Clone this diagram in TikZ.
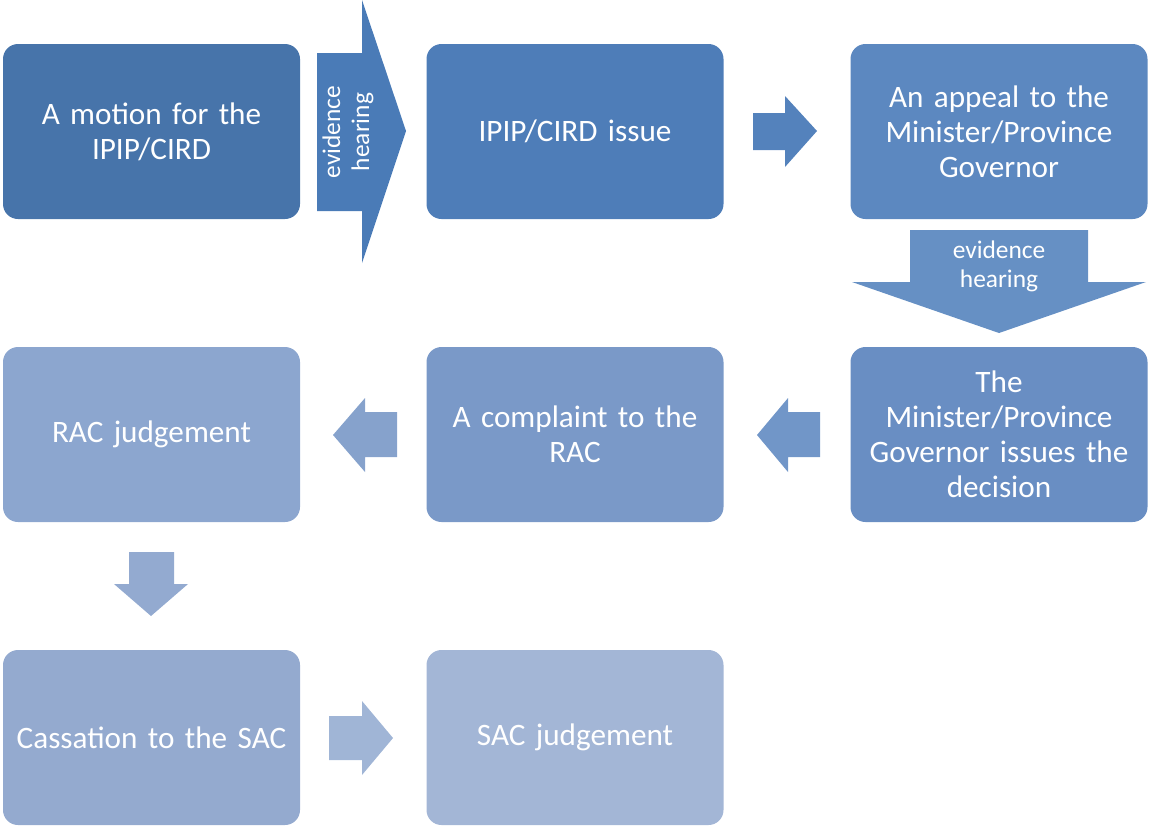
\documentclass[tikz,border=0pt]{standalone}
\usepackage{fontspec}
\setmainfont{Carlito}
\definecolor{cA}{HTML}{4774AA}
\definecolor{cAr1}{HTML}{4A7BB7}
\definecolor{cB}{HTML}{4E7DB8}
\definecolor{cAr2}{HTML}{5482BC}
\definecolor{cC}{HTML}{5C88C0}
\definecolor{cAr3}{HTML}{6690C4}
\definecolor{cD}{HTML}{698EC3}
\definecolor{cAr4}{HTML}{7196C8}
\definecolor{cE}{HTML}{7A99C8}
\definecolor{cAr5}{HTML}{86A2CC}
\definecolor{cF}{HTML}{8CA6CF}
\definecolor{cAr6}{HTML}{93AAD0}
\definecolor{cG}{HTML}{94AACF}
\definecolor{cAr7}{HTML}{A0B5D6}
\definecolor{cH}{HTML}{A3B6D6}
\tikzset{
  stepbox/.style={rounded corners=7.5pt, minimum width=148.5pt, minimum height=87.5pt,
    inner sep=2pt, align=center, text=white, font=\fontsize{15.6}{17.5}\selectfont, text width=140pt},
  arrowtxt/.style={text=white, align=center, font=\fontsize{12.7}{14.5}\selectfont, inner sep=0pt}
}
\begin{document}
\begin{tikzpicture}[x=0.5pt,y=-0.5pt]
\useasboundingbox (0,0) rectangle (1149,826);
% boxes
\node[stepbox, fill=cA] (b1) at (151.5,131.5) {A motion for the\\IPIP/CIRD};
\node[stepbox, fill=cB] (b2) at (575,131.5) {IPIP/CIRD issue};
\node[stepbox, fill=cC] (b3) at (999,131.5) {An appeal to the\\Minister/Province\\Governor};
\node[stepbox, fill=cD] (b6) at (999,434.5) {The\\Minister/Province\\Governor issues the\\decision};
\node[stepbox, fill=cE] (b5) at (575,434.5) {A complaint to the\\RAC};
\node[stepbox, fill=cF] (b4) at (151.5,434.5) {RAC judgement};
\node[stepbox, fill=cG] (b7) at (151.5,737.5) {Cassation to the SAC};
\node[stepbox, fill=cH] (b8) at (575,737.5) {SAC judgement};
% big right arrow b1 -> b2
\fill[cAr1] (317,53) -- (362,53) -- (362,0) -- (406,131) -- (362,263) -- (362,211) -- (317,211) -- cycle;
\node[arrowtxt, rotate=90] (t1) at (348,132) {evidence\\hearing};
% small right arrow b2 -> b3
\fill[cAr2] (753,113) -- (785,113) -- (785,96) -- (817,131) -- (785,167) -- (785,150) -- (753,150) -- cycle;
% big down arrow b3 -> b6
\fill[cAr3] (910,230) -- (1088,230) -- (1088,282) -- (1146,282) -- (999,333) -- (852,282) -- (910,282) -- cycle;
\node[arrowtxt] (t2) at (999,266) {evidence\\hearing};
% left arrow b6 -> b5
\fill[cAr4] (820,412) -- (788,412) -- (788,398) -- (757,435) -- (788,472) -- (788,457) -- (820,457) -- cycle;
% left arrow b5 -> b4
\fill[cAr5] (397,412) -- (365,412) -- (365,398) -- (333,435) -- (365,472) -- (365,457) -- (397,457) -- cycle;
% down arrow b4 -> b7
\fill[cAr6] (129,552) -- (174,552) -- (174,584) -- (188,584) -- (151,616) -- (114,584) -- (129,584) -- cycle;
% right arrow b7 -> b8
\fill[cAr7] (329,716) -- (362,716) -- (362,701) -- (393,738) -- (362,775) -- (362,760) -- (329,760) -- cycle;
\end{tikzpicture}
\end{document}
